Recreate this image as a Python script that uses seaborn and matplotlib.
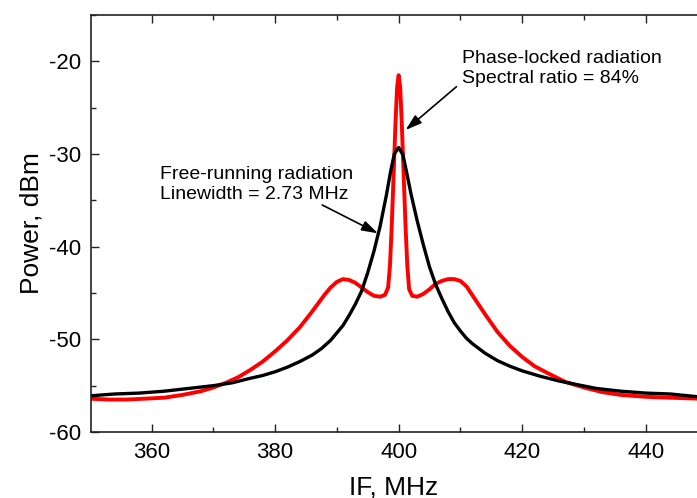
import matplotlib
matplotlib.use("Agg")
import matplotlib.pyplot as plt
import seaborn as sns
import pandas as pd
from matplotlib.ticker import MultipleLocator

# Free-running radiation (black)
free_if = [350, 354, 358, 362, 366, 370, 373, 376, 378, 380, 382, 384, 386, 387.5,
           389, 390, 391, 392, 393, 394, 395, 396, 397, 398, 398.7, 399.3, 400,
           400.7, 401.3, 402, 403, 404, 405, 406, 407, 408, 409, 410, 411, 412,
           414, 416, 418, 420, 423, 426, 429, 432, 436, 440, 444, 448.5]
free_dbm = [-56.1, -55.9, -55.8, -55.6, -55.3, -55.0, -54.7, -54.2, -53.9, -53.5,
            -53.0, -52.4, -51.7, -51.0, -50.1, -49.3, -48.5, -47.4, -46.2, -44.8,
            -42.8, -40.5, -37.8, -34.5, -31.9, -30.0, -29.3, -30.1, -32.0, -34.3,
            -37.2, -39.8, -42.2, -44.1, -45.6, -47.0, -48.2, -49.1, -49.9, -50.5,
            -51.5, -52.3, -52.9, -53.4, -54.0, -54.5, -54.9, -55.3, -55.6, -55.8,
            -55.9, -56.2]

# Phase-locked radiation (red)
locked_if = [350, 353, 356, 359, 362, 365, 368, 370, 372, 374, 376, 378, 380, 382,
             384, 386, 387, 388, 389, 390, 391, 392, 393, 394, 395, 396, 397, 397.8,
             398.3, 398.6, 398.9, 399.2, 399.5, 399.75, 400, 400.25, 400.5, 400.8,
             401.1, 401.4, 401.7, 402.2, 403, 404, 405, 406, 407, 408, 409, 410,
             411, 412, 413, 414, 416, 418, 420, 422, 424, 427, 430, 433, 436, 440,
             444, 448.5]
locked_dbm = [-56.4, -56.5, -56.5, -56.4, -56.3, -56.0, -55.6, -55.2, -54.7, -54.1,
              -53.3, -52.4, -51.3, -50.1, -48.7, -47.0, -46.1, -45.2, -44.4, -43.8,
              -43.5, -43.6, -43.9, -44.4, -44.9, -45.3, -45.4, -45.2, -44.4, -42.0,
              -37.5, -32.0, -26.5, -22.8, -21.5, -22.8, -26.5, -32.0, -37.5, -42.0,
              -44.6, -45.3, -45.4, -45.1, -44.6, -44.0, -43.7, -43.5, -43.5, -43.7,
              -44.3, -45.3, -46.3, -47.3, -49.2, -50.7, -51.9, -52.9, -53.6, -54.6,
              -55.2, -55.7, -56.0, -56.2, -56.3, -56.4]

x_ticks = [360, 380, 400, 420, 440]
y_ticks = [-60, -50, -40, -30, -20]
x_label = "IF, MHz"
y_label = "Power, dBm"
note_locked = "Phase-locked radiation\nSpectral ratio = 84%"
note_free = "Free-running radiation\nLinewidth = 2.73 MHz"

sns.set_style("ticks")
plt.rcParams["font.family"] = ["Liberation Sans", "DejaVu Sans"]
plt.rcParams["axes.unicode_minus"] = False
plt.rcParams["text.color"] = "black"
plt.rcParams["axes.labelcolor"] = "black"
plt.rcParams["xtick.color"] = "black"
plt.rcParams["ytick.color"] = "black"

fig = plt.figure(figsize=(6.97, 4.98), dpi=100)
ax = fig.add_axes([91 / 697, 66 / 498, (697 - 91) / 697, 417 / 498])

df_free = pd.DataFrame({"IF": free_if, "P": free_dbm})
df_locked = pd.DataFrame({"IF": locked_if, "P": locked_dbm})

sns.lineplot(data=df_locked, x="IF", y="P", color="#ff0000", lw=2.8, ax=ax,
             sort=False)
sns.lineplot(data=df_free, x="IF", y="P", color="black", lw=2.4, ax=ax,
             sort=False)

ax.set_xlim(350.2, 448.3)
ax.set_ylim(-60, -15)
ax.set_xticks(x_ticks)
ax.set_yticks(y_ticks)
ax.xaxis.set_minor_locator(MultipleLocator(10))
ax.yaxis.set_minor_locator(MultipleLocator(5))
ax.tick_params(which="both", direction="in", top=True, right=False,
               width=1.0, color="#222222")
ax.tick_params(which="major", length=6, labelsize=16, pad=7)
ax.tick_params(which="minor", length=3.5)
ax.spines["right"].set_visible(False)
for s in ["left", "top", "bottom"]:
    ax.spines[s].set_linewidth(1.2)
    ax.spines[s].set_color("#222222")

ax.set_xlabel(x_label, fontsize=19, labelpad=9)
ax.set_ylabel(y_label, fontsize=19, labelpad=4)

arrow = dict(arrowstyle="-|>,head_length=0.7,head_width=0.22", color="black",
             lw=1.2, mutation_scale=14, shrinkA=0, shrinkB=0)

ax.text(410.2, -22.34, note_locked, fontsize=14, ha="left", va="baseline")
ax.annotate("", xy=(401.13, -27.41), xytext=(409.35, -22.74), arrowprops=arrow)
ax.text(361.4, -34.86, note_free, fontsize=14, ha="left", va="baseline")
ax.annotate("", xy=(396.65, -38.56), xytext=(387.63, -35.5), arrowprops=arrow)

fig.savefig("out.png", dpi=100)
